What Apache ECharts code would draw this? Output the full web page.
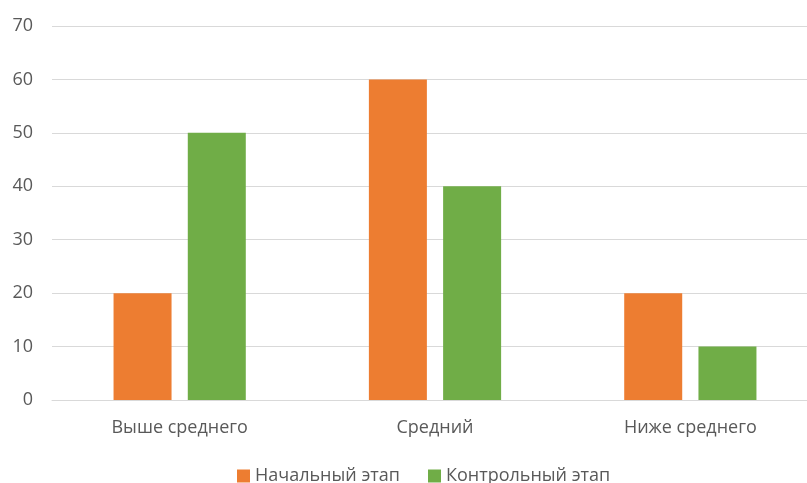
<!DOCTYPE html>
<html>
<head>
<meta charset="utf-8">
<script src="https://cdn.jsdelivr.net/npm/echarts@6/dist/echarts.min.js"></script>
<style>
  html, body { margin: 0; padding: 0; background: #fff; }
  #chart { width: 807px; height: 483px; }
</style>
</head>
<body>
<div id="chart"></div>
<script>
// data
const categories = ['Выше среднего', 'Средний', 'Ниже среднего']
const seriesNames = ['Начальный этап', 'Контрольный этап']
const initialStage = [20, 60, 20]
const controlStage = [50, 40, 10]
const yTicks = { min: 0, max: 70, interval: 10 }

const font = 'Open Sans'
const textColor = '#595959'
const gridColor = '#d9d9d9'

const chart = echarts.init(document.getElementById('chart'))
chart.setOption({
  animation: false,
  textStyle: { fontFamily: font },
  grid: {
    left: 52,
    width: 766,
    top: 26,
    height: 374,
    containLabel: false,
    outerBoundsMode: 'none'
  },
  legend: {
    data: seriesNames,
    left: 232,
    top: 462,
    itemWidth: 13,
    itemHeight: 13,
    itemGap: 28,
    icon: 'rect',
    textStyle: { color: textColor, fontSize: 18, fontFamily: font }
  },
  xAxis: {
    type: 'category',
    data: categories,
    axisLine: { lineStyle: { color: gridColor } },
    axisTick: { show: false },
    axisLabel: { color: textColor, fontSize: 18, margin: 19, fontFamily: font }
  },
  yAxis: {
    type: 'value',
    min: yTicks.min,
    max: yTicks.max,
    interval: yTicks.interval,
    axisLine: { show: false },
    axisTick: { show: false },
    splitLine: { lineStyle: { color: gridColor, width: 1 } },
    axisLabel: { color: textColor, fontSize: 18, margin: 19, fontFamily: font }
  },
  series: [
    {
      name: seriesNames[0],
      type: 'bar',
      data: initialStage,
      barWidth: 58,
      barGap: '28%',
      itemStyle: { color: '#ED7D31' }
    },
    {
      name: seriesNames[1],
      type: 'bar',
      data: controlStage,
      barWidth: 58,
      itemStyle: { color: '#70AD47' }
    }
  ]
})
</script>
</body>
</html>
